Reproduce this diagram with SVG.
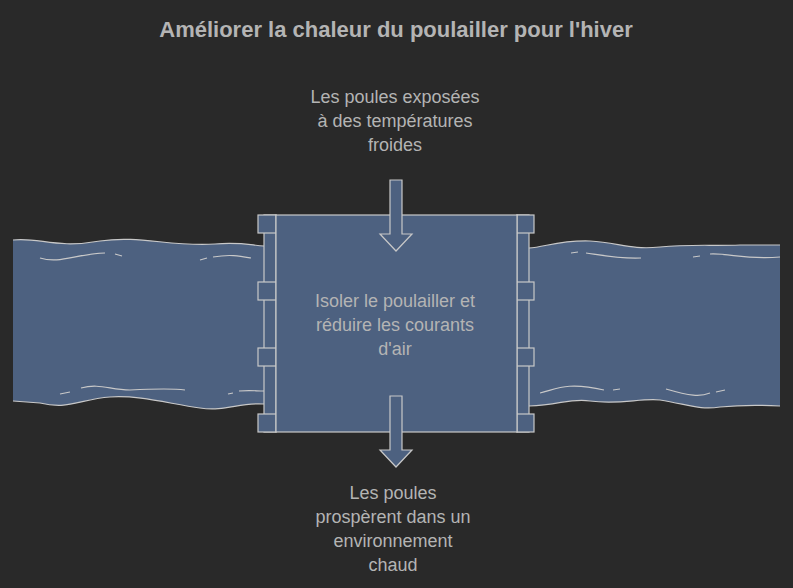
<svg xmlns="http://www.w3.org/2000/svg" width="793" height="588" viewBox="0 0 793 588">
<style>
.w{fill:#4d6180;stroke:#c8c8c8;stroke-width:1.2}
.l{fill:none;stroke:#c8c8c8;stroke-width:1.2}
.t{font-family:"Liberation Sans",Arial,sans-serif;font-size:18px;fill:#b4b4b4;text-anchor:middle}
</style>
<rect width="793" height="588" fill="#292929"/>
<text x="396" y="37" class="t" style="font-size:22px;font-weight:bold">Améliorer la chaleur du poulailler pour l'hiver</text>
<g id="water-left">
<path class="w" d="M13,240 C40,237 55,249 100,241 C140,235 170,247 215,244 C240,242 250,245 264,246 L264,404 C240,402 225,412 200,408 C170,404 140,395 110,397 C80,399 70,410 40,403 L13,401 Z" style="stroke:none"/>
<path class="l" d="M13,240 C40,237 55,249 100,241 C140,235 170,247 215,244 C240,242 250,245 264,246"/>
<path class="l" d="M13,401 L40,403 C70,410 80,399 110,397 C140,395 170,404 200,408 C225,412 240,402 264,404"/>
<path class="l" d="M40,258 C60,264 75,254 105,253 M115,254 L122,256 M200,260 L207,258 M213,257 C230,254 240,256 251,258"/>
<path class="l" d="M60,394 L70,392 M81,388 C100,383 110,390 130,390 C150,389 170,388 185,390 M228,394 L233,393 M239,391 C250,390 256,391 264,391"/>
</g>
<g id="water-right">
<path class="w" d="M529,248 C545,247 560,240 590,241 C620,243 630,250 660,247 C690,244 710,246 740,245 L780,245 L780,406 C760,405 740,405 720,407 C700,410 690,405 660,400 C640,398 620,405 590,401 C570,398 560,405 529,406 Z" style="stroke:none"/>
<path class="l" d="M529,248 C545,247 560,240 590,241 C620,243 630,250 660,247 C690,244 710,246 740,245 L780,245"/>
<path class="l" d="M529,406 C560,405 570,398 590,401 C620,405 640,398 660,400 C690,405 700,410 720,407 C740,405 760,405 780,406"/>
<path class="l" d="M571,253 L578,252 M586,253 C600,255 620,259 641,258 M693,257 L700,256 M710,254 C730,253 745,260 780,257"/>
<path class="l" d="M540,393 C555,390 565,381 604,390 M613,390 L620,389 M666,389 C690,396 700,397 710,393 M716,392 L725,390"/>
</g>
<g id="dam">
<rect class="w" x="264" y="215" width="12" height="217"/>
<rect class="w" x="258" y="215" width="18" height="18"/>
<rect class="w" x="258" y="282" width="18" height="18"/>
<rect class="w" x="258" y="348" width="18" height="18"/>
<rect class="w" x="258" y="414" width="18" height="18"/>
<rect class="w" x="517" y="215" width="12" height="217"/>
<rect class="w" x="517" y="215" width="17" height="18"/>
<rect class="w" x="517" y="282" width="17" height="18"/>
<rect class="w" x="517" y="348" width="17" height="18"/>
<rect class="w" x="517" y="414" width="17" height="18"/>
<rect class="w" x="276" y="215" width="241" height="217"/>
<text class="t" x="395" y="307">Isoler le poulailler et</text>
<text class="t" x="395" y="331">réduire les courants</text>
<text class="t" x="395" y="355">d'air</text>
</g>
<g id="connectors">
<path class="w" d="M390,180 L402,180 L402,234 L412,234 L396,251 L380,234 L390,234 Z"/>
<path class="w" d="M390,396 L402,396 L402,450 L412,450 L396,467 L380,450 L390,450 Z"/>
</g>
<g id="input">
<text class="t" x="395" y="103">Les poules exposées</text>
<text class="t" x="395" y="127">à des températures</text>
<text class="t" x="395" y="151">froides</text>
</g>
<g id="output">
<text class="t" x="393" y="499">Les poules</text>
<text class="t" x="393" y="523">prospèrent dans un</text>
<text class="t" x="393" y="547">environnement</text>
<text class="t" x="393" y="571">chaud</text>
</g>
</svg>
